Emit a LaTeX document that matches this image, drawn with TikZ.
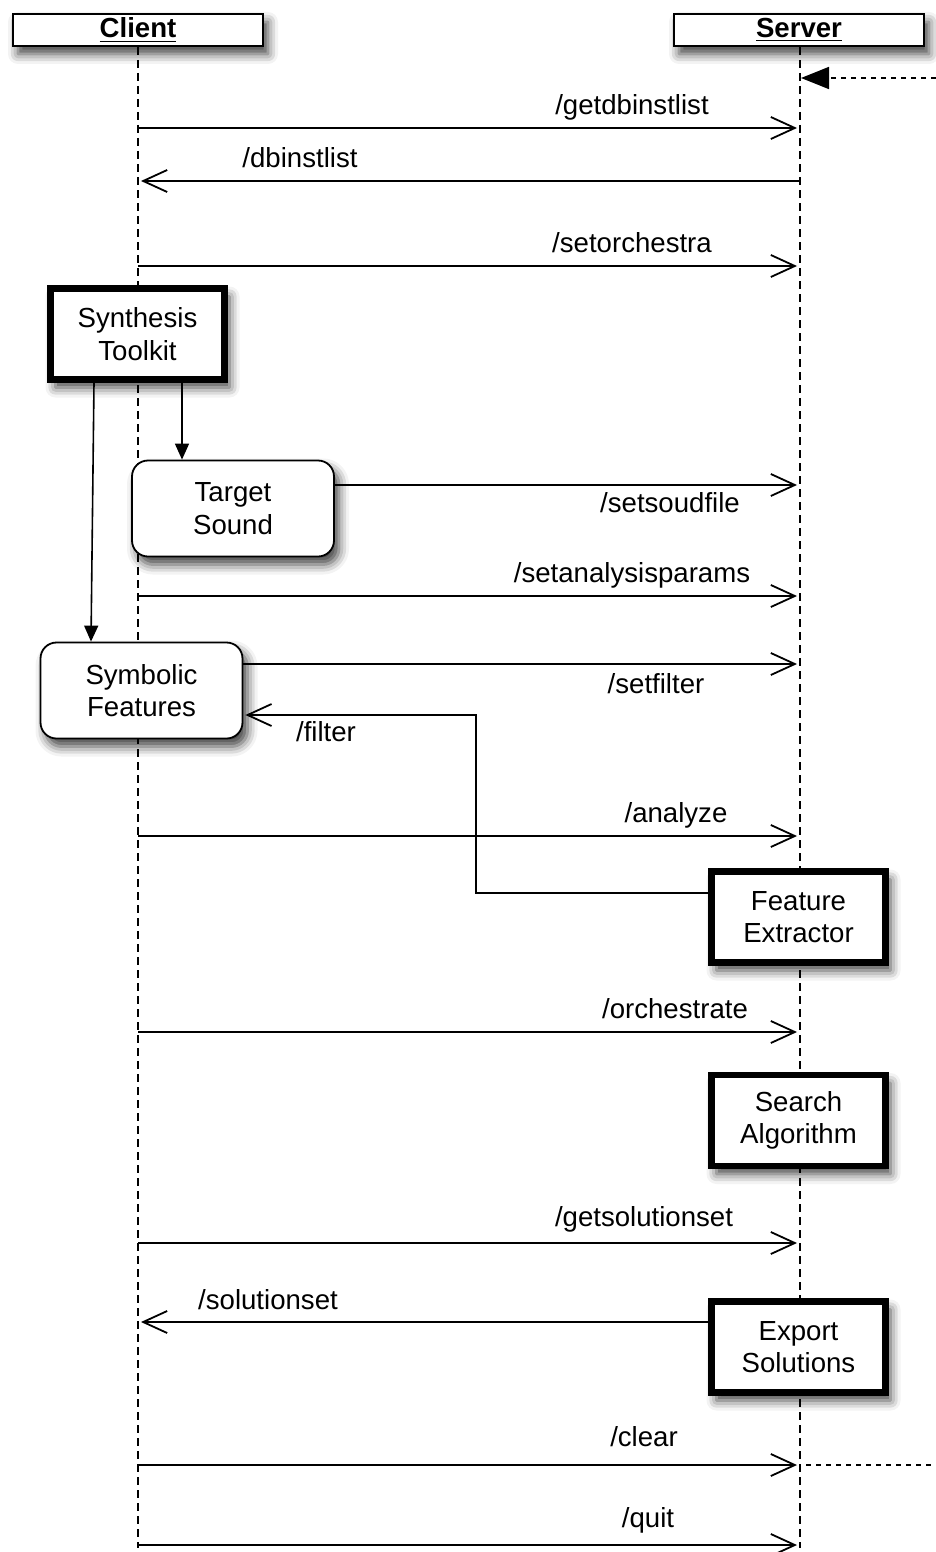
\documentclass[tikz,border=0pt]{standalone}
\usepackage{fontspec}
\setmainfont{Liberation Sans}
\usetikzlibrary{arrows.meta,shadows.blur}
\begin{document}
\begin{tikzpicture}[x=0.5pt,y=-0.5pt,
  txt/.style={font=\fontsize{13.8}{16.2}\selectfont, inner sep=0pt},
  shad/.style={blur shadow={shadow xshift=2.5pt, shadow yshift=-4pt, shadow blur radius=5pt, shadow opacity=75}},
  hdr/.style={draw, line width=1pt, fill=white, minimum width=125pt, minimum height=16pt, inner sep=0pt, font=\fontsize{13.8}{16.2}\selectfont\bfseries, shad},
  thickbox/.style={draw, line width=3.3pt, fill=white, minimum width=87pt, minimum height=45.5pt, inner sep=0pt, align=center, font=\fontsize{13.8}{16.2}\selectfont, shad},
  roundbox/.style={draw, line width=0.9pt, fill=white, rounded corners=8pt, minimum width=101pt, minimum height=48pt, inner sep=0pt, align=center, font=\fontsize{13.8}{16.2}\selectfont, shad},
  lifeline/.style={line width=0.8pt, dash pattern=on 4pt off 2.5pt},
  dotline/.style={line width=0.8pt, dash pattern=on 2.5pt off 2.5pt},
  msg/.style={line width=0.8pt, -{Straight Barb[length=12pt,width=11pt,line width=0.9pt]}},
  solid arrow/.style={line width=0.8pt, -{Triangle[length=8pt,width=7pt]}},
  lbl/.style={txt, anchor=base}
]
\useasboundingbox (0,0) rectangle (936,1552);

% headers
\node[hdr] (client) at (138,30) {\underline{Client}};
\node[hdr] (server) at (799,30) {\underline{Server}};

% lifelines
\coordinate (clend) at (138,1548);
\coordinate (slend) at (800,1548);
\draw[lifeline] (client.south -| clend) -- (clend);
\draw[lifeline] (server.south -| slend) -- (slend);

% boxes
\node[thickbox] (st) at (137.5,334) {Synthesis\\Toolkit};
\node[roundbox] (ts) at (233,508.5) {Target\\Sound};
\node[roundbox] (sf) at (141.5,690.5) {Symbolic\\Features};
\node[thickbox] (fe) at (798.5,917) {Feature\\Extractor};
\node[thickbox] (sa) at (798.5,1120.5) {Search\\Algorithm};
\node[thickbox] (es) at (798.5,1347) {Export\\Solutions};

% incoming / outgoing dotted
\coordinate (inA) at (936,78);
\coordinate (inB) at (801,78);
\draw[dotline, -{Triangle[length=14pt,width=11pt]}] (inA) -- (inB);
\coordinate (outA) at (806,1465);
\coordinate (outB) at (936,1465);
\draw[dotline] (outA) -- (outB);

% messages
\coordinate (c1) at (138,128);  \coordinate (s1) at (797,128);
\draw[msg] (c1) -- (s1);
\node[lbl] (l1) at (632,114) {/getdbinstlist};

\coordinate (s2) at (800,181);  \coordinate (c2) at (141,181);
\draw[msg] (s2) -- (c2);
\node[lbl] (l2) at (300,167) {/dbinstlist};

\coordinate (c3) at (138,266);  \coordinate (s3) at (797,266);
\draw[msg] (c3) -- (s3);
\node[lbl] (l3) at (632,252) {/setorchestra};

\coordinate (a1) at (182,0);
\draw[solid arrow] (st.south -| a1) -- (ts.north -| a1);
\coordinate (a2) at (94,0);
\coordinate (a3) at (91,0);
\draw[solid arrow] (st.south -| a2) -- (sf.north -| a3);

\coordinate (s4) at (797,485);
\draw[msg] (ts.east |- s4) -- (s4);
\node[lbl] (l4) at (670,512) {/setsoudfile};

\coordinate (c5) at (138,596);  \coordinate (s5) at (797,596);
\draw[msg] (c5) -- (s5);
\node[lbl] (l5) at (632,582) {/setanalysisparams};

\coordinate (s6) at (797,664);
\draw[msg] (sf.east |- s6) -- (s6);
\node[lbl] (l6) at (656,693) {/setfilter};

\coordinate (f1) at (476,893);
\coordinate (f2) at (476,715);
\draw[msg] (fe.west |- f1) -- (f1) -- (f2) -- ([xshift=1pt]sf.east |- f2);
\node[lbl] (l7) at (326,741) {/filter};

\coordinate (c8) at (138,836);  \coordinate (s8) at (797,836);
\draw[msg] (c8) -- (s8);
\node[lbl] (l8) at (676,822) {/analyze};

\coordinate (c9) at (138,1032);  \coordinate (s9) at (797,1032);
\draw[msg] (c9) -- (s9);
\node[lbl] (l9) at (675,1018) {/orchestrate};

\coordinate (c10) at (138,1243);  \coordinate (s10) at (797,1243);
\draw[msg] (c10) -- (s10);
\node[lbl] (l10) at (644,1226) {/getsolutionset};

\coordinate (c11) at (141,1322);
\draw[msg] (es.west |- c11) -- (c11);
\node[lbl] (l11) at (268,1309) {/solutionset};

\coordinate (c12) at (138,1465);  \coordinate (s12) at (797,1465);
\draw[msg] (c12) -- (s12);
\node[lbl] (l12) at (644,1446) {/clear};

\coordinate (c13) at (138,1545);  \coordinate (s13) at (797,1545);
\draw[msg] (c13) -- (s13);
\node[lbl] (l13) at (648,1527) {/quit};
\end{tikzpicture}
\end{document}
